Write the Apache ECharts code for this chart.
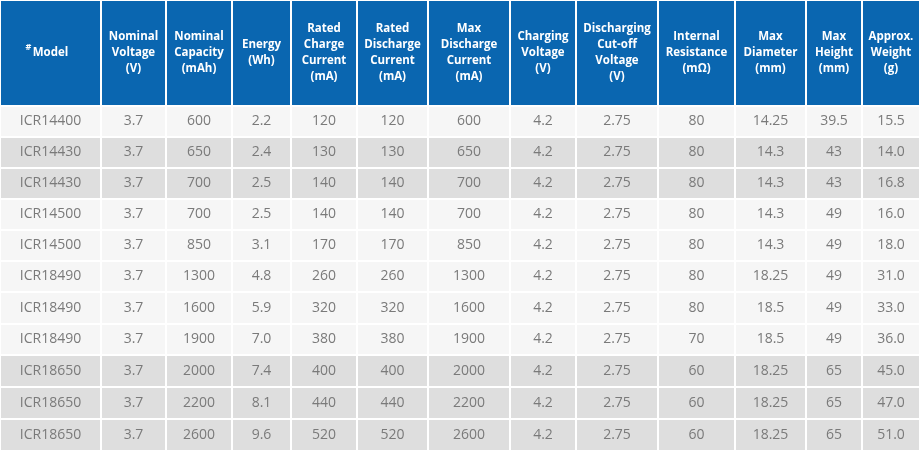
<!DOCTYPE html>
<html>
<head>
<meta charset="utf-8">
<script src="https://cdn.jsdelivr.net/npm/echarts@6/dist/echarts.min.js"></script>
<style>html,body{margin:0;padding:0;background:#fff}#chart{width:920px;height:460px}</style>
</head>
<body>
<div id="chart"></div>
<script>
var headers = ['Model', 'Nominal\nVoltage\n(V)', 'Nominal\nCapacity\n(mAh)', 'Energy\n(Wh)',
  'Rated\nCharge\nCurrent\n(mA)', 'Rated\nDischarge\nCurrent\n(mA)', 'Max\nDischarge\nCurrent\n(mA)',
  'Charging\nVoltage\n(V)', 'Discharging\nCut-off\nVoltage\n(V)', 'Internal\nResistance\n(mΩ)',
  'Max\nDiameter\n(mm)', 'Max\nHeight\n(mm)', 'Approx.\nWeight\n(g)'];
var models = ['ICR14400','ICR14430','ICR14430','ICR14500','ICR14500','ICR18490','ICR18490','ICR18490','ICR18650','ICR18650','ICR18650'];
var voltage = ['3.7','3.7','3.7','3.7','3.7','3.7','3.7','3.7','3.7','3.7','3.7'];
var capacity = ['600','650','700','700','850','1300','1600','1900','2000','2200','2600'];
var energy = ['2.2','2.4','2.5','2.5','3.1','4.8','5.9','7.0','7.4','8.1','9.6'];
var chargeCurrent = ['120','130','140','140','170','260','320','380','400','440','520'];
var dischargeCurrent = ['120','130','140','140','170','260','320','380','400','440','520'];
var maxDischarge = ['600','650','700','700','850','1300','1600','1900','2000','2200','2600'];
var chargeVoltage = ['4.2','4.2','4.2','4.2','4.2','4.2','4.2','4.2','4.2','4.2','4.2'];
var cutoffVoltage = ['2.75','2.75','2.75','2.75','2.75','2.75','2.75','2.75','2.75','2.75','2.75'];
var resistance = ['80','80','80','80','80','80','80','70','60','60','60'];
var diameter = ['14.25','14.3','14.3','14.3','14.3','18.25','18.5','18.5','18.25','18.25','18.25'];
var height = ['39.5','43','43','49','49','49','49','49','65','65','65'];
var weight = ['15.5','14.0','16.8','16.0','18.0','31.0','33.0','36.0','45.0','47.0','51.0'];
var shadedRows = [1, 2, 8, 9, 10];

// layout
var colEdges = [0, 101, 166, 232, 291, 357, 428, 510, 576, 658, 735, 806, 862, 920];
var rowEdges = [0, 106, 137, 168, 199, 230, 261, 292, 324, 355, 387, 419, 451];

var columns = [models, voltage, capacity, energy, chargeCurrent, dischargeCurrent, maxDischarge,
  chargeVoltage, cutoffVoltage, resistance, diameter, height, weight];
var cells = [];
headers.forEach(function (h, c) { cells.push([c, 0, h]); });
columns.forEach(function (col, c) {
  col.forEach(function (v, r) { cells.push([c, r + 1, v]); });
});

function renderCell(params, api) {
  var c = api.value(0), r = api.value(1);
  var text = cells[params.dataIndex][2];
  var p0 = api.coord([colEdges[c], rowEdges[r]]);
  var p1 = api.coord([colEdges[c + 1], rowEdges[r + 1]]);
  var fill = r === 0 ? '#0a66b0' : (shadedRows.indexOf(r - 1) >= 0 ? '#dedede' : '#f6f6f6');
  var children = [{
    type: 'rect',
    shape: { x: p0[0], y: p0[1], width: p1[0] - p0[0], height: p1[1] - p0[1] },
    style: { fill: fill, stroke: '#ffffff', lineWidth: 2 }
  }];
  var cx = (p0[0] + p1[0]) / 2, cy = (p0[1] + p1[1]) / 2;
  if (r === 0 && c === 0) {
    children.push({ type: 'text', style: { x: cx - 22, y: cy - 6, text: '#', fill: '#fff', font: 'bold 9px "Open Sans"', align: 'center', verticalAlign: 'middle' } });
  }
  children.push({
    type: 'text',
    style: {
      x: cx, y: cy, text: text, align: 'center', verticalAlign: 'middle',
      fill: r === 0 ? '#ffffff' : '#7a7a7a',
      font: r === 0 ? 'bold 11.5px "Open Sans"' : '14px "Open Sans"',
      lineHeight: 16
    }
  });
  return { type: 'group', children: children };
}

var chart = echarts.init(document.getElementById('chart'));
chart.setOption({
  animation: false,
  grid: { left: 0, right: 0, top: 0, bottom: 0 },
  xAxis: { type: 'value', min: 0, max: 920, show: false },
  yAxis: { type: 'value', min: 0, max: 460, inverse: true, show: false },
  series: [{
    type: 'custom',
    renderItem: renderCell,
    data: cells.map(function (d) { return [d[0], d[1]]; })
  }]
});
</script>
</body>
</html>
